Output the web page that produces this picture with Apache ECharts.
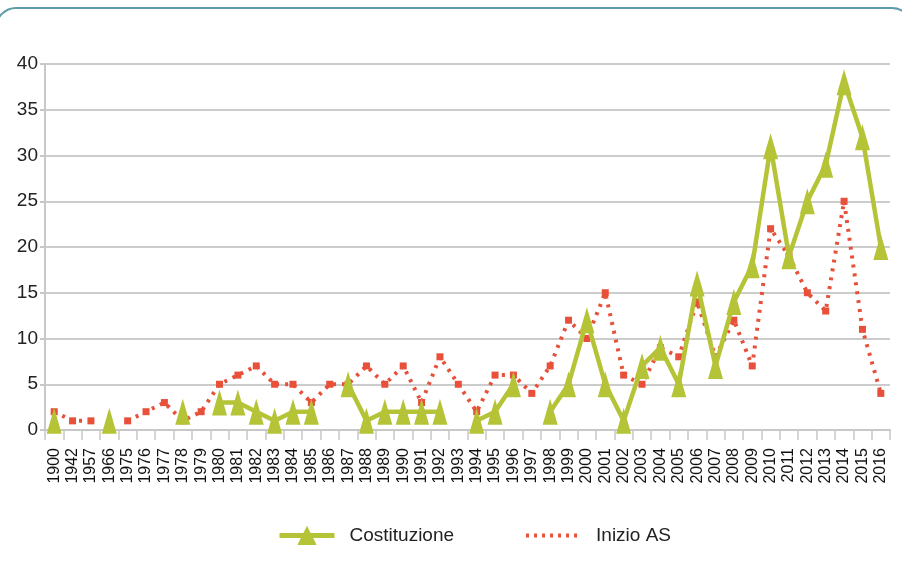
<!DOCTYPE html>
<html>
<head>
<meta charset="utf-8">
<script src="https://cdn.jsdelivr.net/npm/echarts@6/dist/echarts.min.js"></script>
<style>
html,body{margin:0;padding:0;background:#fff;}
#main{width:902px;height:568px;}
</style>
</head>
<body>
<div id="main"></div>
<script>
// categorie (anni)
var anni = ['1900','1942','1957','1966','1975','1976','1977','1978','1979','1980',
	'1981','1982','1983','1984','1985','1986','1987','1988','1989','1990',
	'1991','1992','1993','1994','1995','1996','1997','1998','1999','2000',
	'2001','2002','2003','2004','2005','2006','2007','2008','2009','2010',
	'2011','2012','2013','2014','2015','2016'];
// Costituzione
var costituzione = [1,null,null,1,null,null,null,2,null,3,
	3,2,1,2,2,null,5,1,2,2,
	2,2,null,1,2,5,null,2,5,12,
	5,1,7,9,5,16,7,14,18,31,
	19,25,29,38,32,20];
// Inizio AS
var inizioAS = [2,1,1,null,1,2,3,1,2,5,
	6,7,5,5,3,5,5,7,5,7,
	3,8,5,2,6,6,4,7,12,10,
	15,6,5,9,8,14,8,12,7,22,
	19,15,13,25,11,4];
var yTicks = [0,5,10,15,20,25,30,35,40];

var chart = echarts.init(document.getElementById('main'));
var verde = '#b5c337';
var rosso = '#e8503a';
chart.setOption({
	animation:false,
	textStyle:{fontFamily:'Liberation Sans, Arial, sans-serif'},
	graphic:[{
		type:'rect',
		shape:{x:-4,y:8,width:916,height:580,r:20},
		style:{fill:'none',stroke:'#5d9ca8',lineWidth:2}
	}],
	grid:{left:45,right:12,top:64,bottom:138},
	legend:{
		bottom:18,
		left:272,
		itemWidth:55,
		itemHeight:24,
		itemGap:70,
		textStyle:{fontSize:19,color:'#222',padding:[0,0,0,10]},
		data:[
			{name:'Costituzione',lineStyle:{width:5}},
			{name:'Inizio AS',itemStyle:{opacity:0},lineStyle:{width:4,type:[3,5]}}
		]
	},
	xAxis:{
		type:'category',
		data:anni,
		boundaryGap:true,
		axisLine:{lineStyle:{color:'#c8c8c8',width:2}},
		axisTick:{show:true,length:10,interval:0,lineStyle:{color:'#c8c8c8',width:1.5}},
		axisLabel:{interval:0,rotate:90,fontSize:16,color:'#111',margin:18}
	},
	yAxis:{
		type:'value',
		min:0,
		max:40,
		interval:5,
		axisLine:{show:true,lineStyle:{color:'#c8c8c8',width:2}},
		axisTick:{show:true,length:5,lineStyle:{color:'#c8c8c8',width:2}},
		axisLabel:{fontSize:19,color:'#222',margin:7,
			formatter:function(v){return yTicks.indexOf(v)>-1?String(v):'';}},
		splitLine:{lineStyle:{color:'#cccccc',width:2}}
	},
	series:[{
		name:'Inizio AS',
		type:'line',
		data:inizioAS,
		symbol:'rect',
		symbolSize:7,
		showAllSymbol:true,
		lineStyle:{color:rosso,width:4,type:[3,6]},
		itemStyle:{color:rosso},
		z:2
	},{
		name:'Costituzione',
		type:'line',
		data:costituzione,
		symbol:'triangle',
		symbolSize:[15,26],
		showAllSymbol:true,
		lineStyle:{color:verde,width:4.5},
		itemStyle:{color:verde},
		z:3
	}]
});
</script>
</body>
</html>
